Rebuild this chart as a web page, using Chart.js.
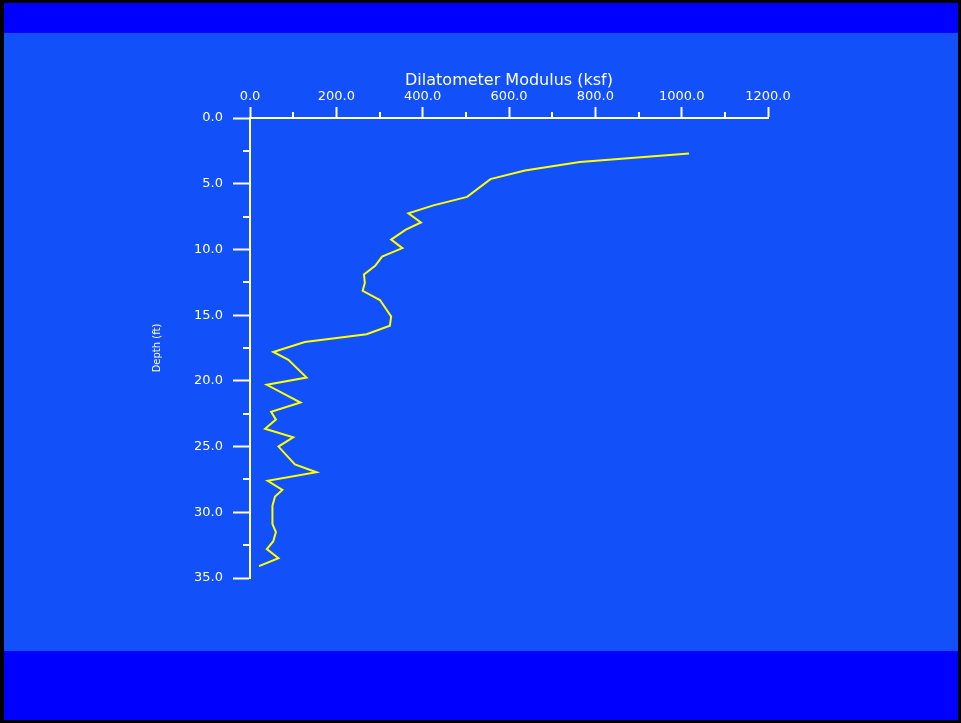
<!DOCTYPE html>
<html>
<head>
<meta charset="utf-8">
<script src="https://cdn.jsdelivr.net/npm/chart.js"></script>
<style>
html, body { margin: 0; padding: 0; background: #fff; }
#frame { position: absolute; left: 0; top: 0; width: 961px; height: 723px; background: #000; }
#bandTop { position: absolute; left: 4px; top: 3px; width: 954px; height: 30px; background: #0000ff; }
#bandMid { position: absolute; left: 4px; top: 33px; width: 954px; height: 618px; background: #1251f9; }
#bandBot { position: absolute; left: 4px; top: 651px; width: 954px; height: 69px; background: #0000ff; }
#myChart { position: absolute; left: 0; top: 0; }
</style>
</head>
<body>
<div id="frame">
  <div id="bandTop"></div>
  <div id="bandMid"></div>
  <div id="bandBot"></div>
</div>
<canvas id="myChart" width="961" height="723"></canvas>
<script>
// depth (ft) and dilatometer modulus (ksf)
const depthFt = [2.7, 3.35, 4.0, 4.65, 6.0, 6.65, 7.25, 7.95, 8.5, 9.25, 9.9, 10.55, 11.25, 11.9,
  12.55, 13.15, 13.85, 15.1, 15.8, 16.45, 17.05, 17.8, 18.4, 19.75, 20.3, 21.65, 22.35, 22.95,
  23.65, 24.3, 25.0, 26.35, 26.95, 27.6, 28.3, 28.8, 29.5, 30.9, 31.5, 32.2, 32.8, 33.5, 34.1];
const modulusKsf = [1017, 764, 637, 557, 503, 425, 367, 396, 361, 327, 353, 306, 290, 264,
  266, 261, 301, 327, 324, 270, 127, 54, 89, 131, 39, 117, 49, 60,
  35, 100, 66, 104, 154, 41, 75, 58, 52, 52, 60, 54, 39, 66, 21];

const xMajor = [0, 200, 400, 600, 800, 1000, 1200];
const xMinor = [100, 300, 500, 700, 900, 1100];
const yMajor = [0, 5, 10, 15, 20, 25, 30, 35];
const yMinor = [2.5, 7.5, 12.5, 17.5, 22.5, 27.5, 32.5];

const FONT = 'DejaVu Sans';
const WHITE = '#ffffff';

// short minor ticks (Chart.js only does one tick length per axis)
const minorTicks = {
  id: 'minorTicks',
  afterDraw(chart) {
    const ctx = chart.ctx;
    const x = chart.scales.x, y = chart.scales.y;
    const area = chart.chartArea;
    ctx.save();
    ctx.strokeStyle = WHITE;
    ctx.lineWidth = 2;
    xMinor.forEach(function (v) {
      const px = Math.round(x.getPixelForValue(v));
      ctx.beginPath();
      ctx.moveTo(px, area.top);
      ctx.lineTo(px, area.top - 6);
      ctx.stroke();
    });
    yMinor.forEach(function (v) {
      const py = Math.round(y.getPixelForValue(v));
      ctx.beginPath();
      ctx.moveTo(area.left, py);
      ctx.lineTo(area.left - 7, py);
      ctx.stroke();
    });
    ctx.restore();
  }
};

const points = depthFt.map((d, i) => ({ x: modulusKsf[i], y: d }));

var ctx = document.getElementById('myChart').getContext('2d');
var myChart = new Chart(ctx, {
  type: 'scatter',
  data: {
    datasets: [{
      label: 'Dilatometer Modulus',
      data: points,
      showLine: true,
      borderColor: '#ffff00',
      borderWidth: 2,
      pointRadius: 0,
      tension: 0
    }]
  },
  options: {
    responsive: false,
    animation: false,
    layout: { padding: { left: 147, top: 68, right: 193, bottom: 145 } },
    plugins: { legend: { display: false }, tooltip: { enabled: false } },
    scales: {
      x: {
        type: 'linear',
        position: 'top',
        min: 0,
        max: 1200,
        afterBuildTicks: function (scale) { scale.ticks = xMajor.map(v => ({ value: v })); },
        afterFit: function (scale) { scale.height = 50; },
        ticks: {
          color: WHITE,
          font: { family: FONT, size: 13 },
          padding: 3,
          maxRotation: 0,
          autoSkip: false,
          callback: v => Number(v).toFixed(1)
        },
        grid: { drawOnChartArea: false, tickLength: 11, tickColor: WHITE, tickWidth: 2 },
        border: { color: WHITE, width: 2 },
        title: {
          display: true,
          text: 'Dilatometer Modulus (ksf)',
          color: WHITE,
          font: { family: FONT, size: 16 },
          padding: { top: 3, bottom: 0 }
        }
      },
      y: {
        type: 'linear',
        reverse: true,
        min: 0,
        max: 35,
        afterBuildTicks: function (scale) { scale.ticks = yMajor.map(v => ({ value: v })); },
        afterFit: function (scale) { scale.width = 103; },
        ticks: {
          color: WHITE,
          font: { family: FONT, size: 13 },
          padding: 10,
          autoSkip: false,
          callback: v => Number(v).toFixed(1)
        },
        grid: { drawOnChartArea: false, tickLength: 17, tickColor: WHITE, tickWidth: 2 },
        border: { color: WHITE, width: 2 },
        title: {
          display: true,
          text: 'Depth (ft)',
          color: WHITE,
          font: { family: FONT, size: 10 },
          padding: { top: 4, bottom: 0 }
        }
      }
    }
  },
  plugins: [minorTicks]
});
</script>
</body>
</html>
